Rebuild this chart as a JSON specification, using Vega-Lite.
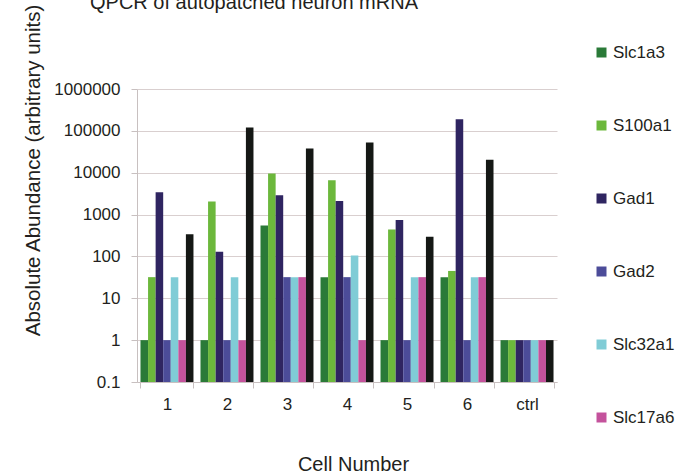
{
  "$schema": "https://vega.github.io/schema/vega-lite/v6.json",
  "autosize": {"type": "none"},
  "width": 420,
  "height": 293,
  "padding": {"left": 137, "top": 89, "right": 134, "bottom": 91},
  "background": "white",
  "title": {
    "text": "QPCR of autopatched neuron mRNA",
    "fontSize": 20,
    "font": "Liberation Sans",
    "fontWeight": "normal",
    "color": "#231f20",
    "anchor": "middle",
    "frame": "group",
    "baseline": "alphabetic",
    "dx": -93,
    "offset": -25
  },
  "data": {
    "values": [
      {"cell": "1", "gene": "Slc1a3", "value": 1},
      {"cell": "1", "gene": "S100a1", "value": 32},
      {"cell": "1", "gene": "Gad1", "value": 3400},
      {"cell": "1", "gene": "Gad2", "value": 1},
      {"cell": "1", "gene": "Slc32a1", "value": 32},
      {"cell": "1", "gene": "Slc17a6", "value": 1},
      {"cell": "1", "gene": "Slc17a7", "value": 340},
      {"cell": "2", "gene": "Slc1a3", "value": 1},
      {"cell": "2", "gene": "S100a1", "value": 2050},
      {"cell": "2", "gene": "Gad1", "value": 130},
      {"cell": "2", "gene": "Gad2", "value": 1},
      {"cell": "2", "gene": "Slc32a1", "value": 32},
      {"cell": "2", "gene": "Slc17a6", "value": 1},
      {"cell": "2", "gene": "Slc17a7", "value": 120000},
      {"cell": "3", "gene": "Slc1a3", "value": 550},
      {"cell": "3", "gene": "S100a1", "value": 9600},
      {"cell": "3", "gene": "Gad1", "value": 2900},
      {"cell": "3", "gene": "Gad2", "value": 32},
      {"cell": "3", "gene": "Slc32a1", "value": 32},
      {"cell": "3", "gene": "Slc17a6", "value": 32},
      {"cell": "3", "gene": "Slc17a7", "value": 38000},
      {"cell": "4", "gene": "Slc1a3", "value": 32},
      {"cell": "4", "gene": "S100a1", "value": 6600},
      {"cell": "4", "gene": "Gad1", "value": 2100},
      {"cell": "4", "gene": "Gad2", "value": 32},
      {"cell": "4", "gene": "Slc32a1", "value": 105},
      {"cell": "4", "gene": "Slc17a6", "value": 1},
      {"cell": "4", "gene": "Slc17a7", "value": 53000},
      {"cell": "5", "gene": "Slc1a3", "value": 1},
      {"cell": "5", "gene": "S100a1", "value": 440},
      {"cell": "5", "gene": "Gad1", "value": 740},
      {"cell": "5", "gene": "Gad2", "value": 1},
      {"cell": "5", "gene": "Slc32a1", "value": 32},
      {"cell": "5", "gene": "Slc17a6", "value": 32},
      {"cell": "5", "gene": "Slc17a7", "value": 295},
      {"cell": "6", "gene": "Slc1a3", "value": 32},
      {"cell": "6", "gene": "S100a1", "value": 45},
      {"cell": "6", "gene": "Gad1", "value": 190000},
      {"cell": "6", "gene": "Gad2", "value": 1},
      {"cell": "6", "gene": "Slc32a1", "value": 32},
      {"cell": "6", "gene": "Slc17a6", "value": 32},
      {"cell": "6", "gene": "Slc17a7", "value": 20500},
      {"cell": "ctrl", "gene": "Slc1a3", "value": 1},
      {"cell": "ctrl", "gene": "S100a1", "value": 1},
      {"cell": "ctrl", "gene": "Gad1", "value": 1},
      {"cell": "ctrl", "gene": "Gad2", "value": 1},
      {"cell": "ctrl", "gene": "Slc32a1", "value": 1},
      {"cell": "ctrl", "gene": "Slc17a6", "value": 1},
      {"cell": "ctrl", "gene": "Slc17a7", "value": 1}
    ]
  },
  "mark": {"type": "bar"},
  "encoding": {
    "x": {
      "field": "cell",
      "type": "nominal",
      "sort": ["1", "2", "3", "4", "5", "6", "ctrl"],
      "scale": {"paddingInner": 0.117, "paddingOuter": 0.058},
      "axis": {
        "title": "Cell Number",
        "titleFont": "Liberation Sans",
        "titleFontSize": 20,
        "titleFontWeight": "normal",
        "titleColor": "#231f20",
        "titleX": 216,
        "titleY": 88,
        "titleBaseline": "alphabetic",
        "titleAnchor": "middle",
        "labelFont": "Liberation Sans",
        "labelFontSize": 17,
        "labelColor": "#231f20",
        "labelAngle": 0,
        "labelPadding": 8,
        "tickBand": "extent",
        "tickSize": 6,
        "tickColor": "#c8c0c0",
        "domainColor": "#c8c0c0",
        "grid": false
      }
    },
    "xOffset": {
      "field": "gene",
      "type": "nominal",
      "sort": ["Slc1a3", "S100a1", "Gad1", "Gad2", "Slc32a1", "Slc17a6", "Slc17a7"],
      "scale": {"paddingInner": 0, "paddingOuter": 0}
    },
    "y": {
      "field": "value",
      "type": "quantitative",
      "scale": {"type": "log", "domain": [0.1, 1000000], "nice": false},
      "axis": {
        "title": "Absolute Abundance (arbitrary units)",
        "titleFont": "Liberation Sans",
        "titleFontSize": 20.5,
        "titleFontWeight": "normal",
        "titleColor": "#231f20",
        "titleX": -104,
        "titleY": 81,
        "titleBaseline": "middle",
        "titleAnchor": "middle",
        "values": [0.1, 1, 10, 100, 1000, 10000, 100000, 1000000],
        "format": ".1~f",
        "labelFont": "Liberation Sans",
        "labelFontSize": 17,
        "labelColor": "#231f20",
        "labelPadding": 11,
        "tickSize": 6,
        "tickColor": "#c8c0c0",
        "domainColor": "#c8c0c0",
        "gridColor": "#d9cfcf",
        "gridWidth": 1
      }
    },
    "y2": {"datum": 0.1},
    "color": {
      "field": "gene",
      "type": "nominal",
      "scale": {
        "domain": ["Slc1a3", "S100a1", "Gad1", "Gad2", "Slc32a1", "Slc17a6", "Slc17a7"],
        "range": ["#2a7a38", "#6cb83c", "#2f2561", "#4c4c99", "#80ccd6", "#c4529c", "#151815"]
      },
      "legend": {
        "title": null,
        "orient": "none",
        "legendX": 456,
        "legendY": -45,
        "values": ["Slc1a3", "S100a1", "Gad1", "Gad2", "Slc32a1", "Slc17a6"],
        "symbolType": "square",
        "symbolSize": 100,
        "symbolStrokeWidth": 0,
        "symbolOffset": 0,
        "labelFont": "Liberation Sans",
        "labelFontSize": 17,
        "labelColor": "#231f20",
        "labelOffset": 3,
        "rowPadding": 55,
        "padding": 0
      }
    }
  },
  "config": {
    "view": {"stroke": null}
  }
}
